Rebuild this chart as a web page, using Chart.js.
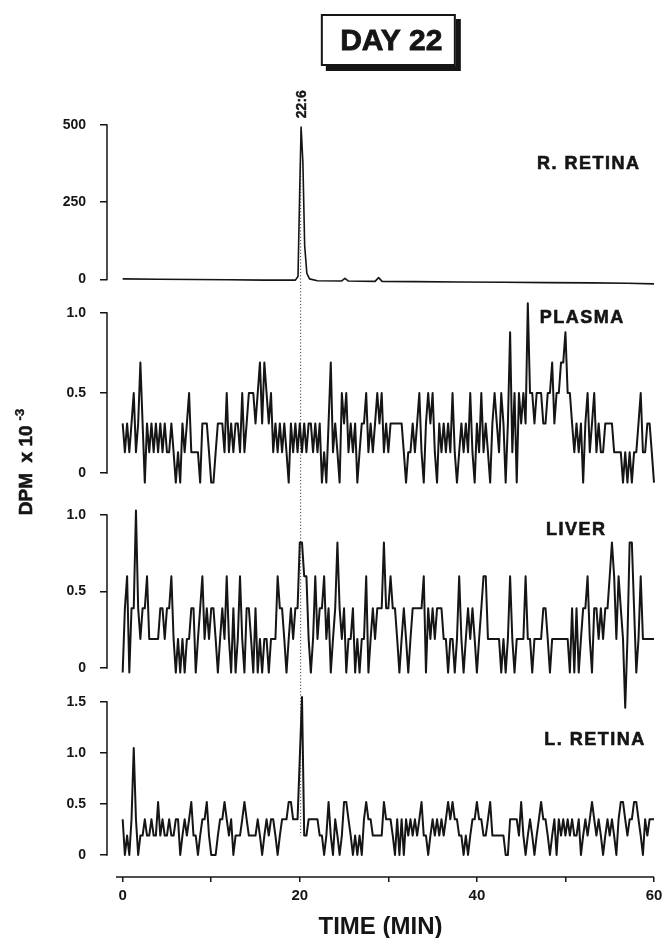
<!DOCTYPE html>
<html>
<head>
<meta charset="utf-8">
<title>Day 22</title>
<script src="https://cdn.jsdelivr.net/npm/chart.js@4.4.1/dist/chart.umd.min.js"></script>
<style>
  html, body { margin: 0; padding: 0; background: #fff; }
  #wrap { position: relative; width: 664px; height: 938px; }
</style>
</head>
<body>
<div id="wrap"><canvas id="dayChart" width="664" height="938"></canvas></div>
<script>
const FONT = "'Liberation Sans', Arial, Helvetica, sans-serif";
const INK = "#151515";

const figureTitle = "DAY 22";
const peakLabel = "22:6";
const peakTime = 20.1;
const xTitle = "TIME (MIN)";
const panelNames = ["R. RETINA", "PLASMA", "LIVER", "L. RETINA"];
const xTicks = [0, 10, 20, 30, 40, 50, 60];
const xTickLabels = [0, 20, 40, 60];
const yTicks = [[0, 250, 500], [0, 0.5, 1.0], [0, 0.5, 1.0], [0, 0.5, 1.0, 1.5]];

const sampleStep = 0.25; // minutes between collected fractions

const rRetinaTimes = [0, 4, 8, 12, 16, 19.5, 19.8, 20.0, 20.15, 20.35, 20.55, 20.8, 21.1, 22, 24.7, 25.1, 25.5, 28.5, 28.9, 29.3, 33, 38, 43, 48, 53, 57, 60];
const rRetinaValues = [2, 1, 0, -1, -2, -2, 10, 300, 493, 380, 110, 20, 2, -4, -5, 4, -5, -6, 6, -6, -7, -8, -9, -10, -11, -12, -14];

const plasmaValues = [
  0.31, 0.13, 0.31, 0.13, 0.31, 0.5, 0.13, 0.31, 0.69, 0.31,
  -0.06, 0.31, 0.13, 0.31, 0.13, 0.31, 0.13, 0.31, 0.13, 0.31,
  0.13, 0.13, 0.31, 0.13, -0.06, 0.13, -0.06, 0.31, 0.13, 0.31,
  0.5, 0.13, 0.13, 0.13, 0.13, -0.06, 0.31, 0.31, 0.31, 0.13,
  -0.06, -0.06, 0.13, 0.31, 0.31, 0.31, 0.13, 0.5, 0.13, 0.31,
  0.13, 0.31, 0.31, 0.13, 0.5, 0.13, 0.31, 0.5, 0.5, 0.5,
  0.31, 0.5, 0.69, 0.31, 0.69, 0.5, 0.31, 0.5, 0.13, 0.31,
  0.13, 0.31, 0.13, 0.31, 0.13, -0.06, 0.31, 0.13, 0.31, 0.13,
  0.31, 0.13, 0.31, 0.13, 0.31, 0.31, 0.13, 0.31, 0.13, 0.31,
  -0.06, 0.13, -0.06, 0.31, 0.69, 0.13, 0.31, 0.13, -0.06, 0.5,
  0.31, 0.5, 0.13, 0.31, 0.13, 0.31, -0.06, 0.13, 0.31, 0.31,
  0.5, 0.13, 0.31, 0.13, 0.31, 0.5, 0.31, 0.5, 0.13, 0.31,
  0.13, 0.31, 0.31, 0.31, 0.31, 0.31, 0.31, 0.13, -0.06, 0.13,
  0.13, 0.31, 0.13, 0.31, 0.5, 0.13, -0.06, 0.31, 0.5, 0.31,
  0.5, 0.13, -0.06, 0.31, 0.13, 0.31, 0.13, 0.31, 0.13, 0.5,
  0.13, -0.06, 0.13, 0.31, 0.13, 0.31, 0.13, 0.5, 0.13, -0.06,
  0.31, 0.13, 0.5, 0.13, 0.31, 0.13, -0.06, 0.31, 0.5, 0.31,
  0.13, 0.5, 0.31, -0.06, 0.31, 0.88, 0.13, 0.5, -0.06, 0.5,
  0.31, 0.5, 0.31, 1.06, 0.5, 0.5, 0.31, 0.5, 0.5, 0.5,
  0.31, 0.31, 0.5, 0.5, 0.69, 0.31, 0.5, 0.5, 0.69, 0.69,
  0.88, 0.5, 0.5, 0.31, 0.13, 0.31, 0.13, 0.31, -0.06, 0.31,
  0.5, 0.13, 0.31, 0.5, 0.13, 0.31, 0.13, 0.13, 0.31, 0.31,
  0.31, 0.31, 0.13, 0.13, 0.13, 0.13, -0.06, 0.13, -0.06, 0.13,
  -0.06, 0.13, 0.13, 0.31, 0.5, 0.13, 0.13, 0.31, 0.31, 0.13,
  -0.06
];

const liverValues = [
  -0.03, 0.39, 0.6, -0.03, 0.39, 0.39, 1.03, 0.39, 0.19, 0.39,
  0.39, 0.6, 0.19, 0.19, 0.19, 0.19, 0.19, 0.39, 0.39, 0.19,
  0.39, 0.39, 0.6, 0.19, -0.03, 0.19, -0.03, 0.19, -0.03, 0.19,
  0.19, 0.39, 0.39, -0.03, 0.19, 0.39, 0.6, 0.19, 0.39, 0.19,
  0.39, 0.39, 0.19, -0.03, 0.19, 0.39, 0.19, 0.6, 0.19, -0.03,
  0.39, -0.03, 0.19, 0.6, 0.19, -0.03, 0.39, 0.39, 0.19, -0.03,
  0.39, -0.03, 0.19, -0.03, 0.19, 0.19, -0.03, 0.19, 0.19, 0.19,
  0.6, 0.39, 0.39, 0.19, -0.03, 0.19, 0.39, 0.19, 0.39, 0.39,
  0.82, 0.82, 0.6, 0.6, 0.19, -0.03, 0.19, 0.6, 0.19, 0.39,
  0.39, 0.6, 0.19, 0.39, -0.03, 0.19, 0.39, 0.82, 0.39, 0.19,
  0.39, -0.03, 0.19, 0.19, 0.39, -0.03, 0.19, -0.03, 0.19, 0.19,
  0.6, -0.03, 0.19, 0.39, 0.19, 0.39, 0.39, 0.39, 0.82, 0.39,
  0.39, 0.6, 0.39, 0.39, 0.19, -0.03, 0.19, 0.39, 0.19, -0.03,
  0.19, 0.39, 0.39, 0.39, 0.39, 0.39, 0.6, -0.03, 0.39, 0.19,
  0.39, 0.19, 0.39, 0.39, 0.39, 0.19, 0.19, -0.03, 0.19, 0.19,
  -0.03, 0.19, 0.6, 0.19, -0.03, 0.19, 0.39, 0.19, 0.39, 0.19,
  -0.03, 0.19, 0.39, 0.6, 0.6, 0.19, 0.19, 0.19, 0.19, 0.19,
  0.19, -0.03, 0.19, -0.03, 0.19, 0.6, 0.19, -0.03, 0.19, 0.19,
  0.19, 0.19, 0.6, 0.19, 0.19, -0.03, 0.19, 0.19, 0.19, 0.19,
  0.39, 0.39, 0.19, -0.03, 0.19, 0.19, 0.19, 0.19, 0.19, 0.19,
  0.19, 0.19, -0.03, 0.39, -0.03, 0.39, -0.03, 0.19, 0.39, 0.39,
  0.6, 0.19, -0.03, 0.39, 0.39, 0.19, 0.39, 0.19, 0.39, 0.39,
  0.6, 0.82, 0.6, 0.19, 0.6, 0.39, 0.19, -0.26, 0.19, 0.82,
  0.82, 0.39, -0.03, 0.19, 0.6, 0.19, 0.19, 0.19, 0.19, 0.19,
  0.19
];

const lRetinaValues = [
  0.35, 0, 0.19, 0, 0.35, 1.05, 0.35, 0, 0.19, 0.19,
  0.35, 0.19, 0.19, 0.35, 0.19, 0.19, 0.52, 0.19, 0.35, 0.19,
  0.19, 0.35, 0.19, 0.19, 0.35, 0.35, 0, 0.19, 0.35, 0.19,
  0.35, 0.52, 0.19, 0.19, 0, 0.19, 0.35, 0.35, 0.52, 0.19,
  0, 0, 0, 0.19, 0.35, 0.35, 0.52, 0.35, 0.19, 0.35,
  0, 0.19, 0.19, 0.19, 0.35, 0.52, 0.35, 0.19, 0.19, 0.19,
  0.19, 0.35, 0.19, 0, 0.19, 0.35, 0.19, 0.35, 0.35, 0.19,
  0, 0.19, 0.35, 0.35, 0.35, 0.52, 0.52, 0.35, 0.35, 0.35,
  0.95, 1.55, 0.19, 0.19, 0.35, 0.35, 0.35, 0.35, 0.35, 0.19,
  0.19, 0, 0.19, 0.52, 0.19, 0, 0.35, 0.19, 0, 0.19,
  0.52, 0.52, 0.35, 0.19, 0, 0.19, 0, 0.19, 0, 0.35,
  0.52, 0.35, 0.35, 0.19, 0.19, 0.19, 0.19, 0.19, 0.52, 0.35,
  0.35, 0.35, 0.19, 0, 0.35, 0, 0.35, 0, 0.35, 0.19,
  0.35, 0.19, 0.35, 0.19, 0.35, 0.52, 0.19, 0.19, 0, 0.19,
  0.35, 0.19, 0.35, 0.19, 0.35, 0.19, 0.35, 0.52, 0.35, 0.52,
  0.35, 0.35, 0.19, 0.19, 0, 0.19, 0, 0.19, 0.35, 0.35,
  0.52, 0.35, 0.35, 0.19, 0.19, 0.35, 0.52, 0.19, 0.19, 0.19,
  0.19, 0.19, 0.19, 0, 0, 0.35, 0.35, 0.35, 0.35, 0.19,
  0.52, 0.19, 0, 0.19, 0.35, 0.19, 0, 0.19, 0.35, 0.52,
  0.35, 0.35, 0.19, 0, 0.19, 0.35, 0, 0.35, 0.19, 0.35,
  0.19, 0.35, 0.19, 0.35, 0.19, 0.19, 0.35, 0, 0.19, 0.35,
  0.19, 0.35, 0.52, 0.35, 0.19, 0.35, 0.19, 0, 0.19, 0.35,
  0.19, 0.35, 0.19, 0, 0.35, 0.52, 0.52, 0.35, 0.19, 0.35,
  0.35, 0.52, 0.52, 0.35, 0.19, 0, 0.35, 0.19, 0.35, 0.35,
  0.35
];

const sampleTimes = plasmaValues.map((_, i) => i * sampleStep);
const toPoints = (times, values) => values.map((v, i) => ({ x: times[i], y: v }));

// one y scale per panel, stacked top to bottom
const panelScaleIds = ["yR", "yP", "yV", "yL"];
const panelLabelSpots = [
  { t: 46.8, at: 374 },
  { t: 47.1, at: 0.97 },
  { t: 47.8, at: 0.9 },
  { t: 47.6, at: 1.13 },
];

const tickText = (value) => {
  if (value === 0) return "0";
  return value >= 100 ? String(value) : value.toFixed(1);
};

const panelScale = (k, min, max, stackWeight) => ({
  type: "linear",
  position: "left",
  stack: "panels",
  stackWeight: stackWeight,
  weight: 4 - k,
  min: min,
  max: max,
  offset: false,
  border: { display: false },
  grid: { drawOnChartArea: false, drawTicks: true, tickLength: 7, color: INK, lineWidth: 1.5 },
  ticks: {
    color: INK,
    padding: 14,
    font: { family: FONT, size: 14, weight: "bold" },
    callback: tickText,
  },
  afterBuildTicks: (scale) => {
    scale.ticks = yTicks[k].map((v) => ({ value: v }));
  },
  afterFit: (scale) => {
    scale.width = 107;
    scale.paddingTop = 0;
    scale.paddingBottom = 0;
  },
});

const traceStyle = {
  borderColor: INK,
  borderWidth: 2,
  borderJoinStyle: "round",
  pointRadius: 0,
  tension: 0,
  fill: false,
  clip: false,
};

// heavier lettering, closer to the printed type
const boldText = (ctx, text, x, y, weight) => {
  ctx.fillText(text, x, y);
  ctx.lineWidth = weight;
  ctx.strokeText(text, x, y);
};

const figureDecor = {
  id: "figureDecor",
  beforeDatasetsDraw(chart) {
    const { ctx } = chart;
    const x = chart.scales.x;
    const px = x.getPixelForValue(peakTime);
    ctx.save();
    ctx.strokeStyle = "#444";
    ctx.lineWidth = 1;
    ctx.setLineDash([1.2, 2]);
    ctx.beginPath();
    ctx.moveTo(px, chart.scales.yR.getPixelForValue(480));
    ctx.lineTo(px, chart.scales.yL.getPixelForValue(0.19));
    ctx.stroke();
    ctx.restore();
  },
  afterDraw(chart) {
    const { ctx } = chart;
    const x = chart.scales.x;
    ctx.save();
    ctx.strokeStyle = INK;
    ctx.fillStyle = INK;
    ctx.lineWidth = 1.5;

    // bracket axes: only from zero up to the top tick
    panelScaleIds.forEach((id, k) => {
      const s = chart.scales[id];
      const top = s.getPixelForValue(yTicks[k][yTicks[k].length - 1]);
      const bottom = s.getPixelForValue(0);
      ctx.beginPath();
      ctx.moveTo(s.right, top - 0.75);
      ctx.lineTo(s.right, bottom + 0.75);
      ctx.stroke();
    });

    // time axis line
    ctx.beginPath();
    ctx.moveTo(x.getPixelForValue(-0.75), x.top);
    ctx.lineTo(x.right, x.top);
    ctx.stroke();

    // panel names
    ctx.font = "bold 18px " + FONT;
    ctx.letterSpacing = "1.5px";
    ctx.textAlign = "left";
    ctx.textBaseline = "middle";
    panelNames.forEach((name, k) => {
      const spot = panelLabelSpots[k];
      boldText(ctx, name, x.getPixelForValue(spot.t), chart.scales[panelScaleIds[k]].getPixelForValue(spot.at), 0.6);
    });
    ctx.letterSpacing = "0px";

    // peak time label, rotated
    const px = x.getPixelForValue(peakTime);
    const peakY = chart.scales.yR.getPixelForValue(493);
    ctx.save();
    ctx.translate(px + 1, peakY - 9);
    ctx.rotate(-Math.PI / 2);
    ctx.font = "bold 14px " + FONT;
    ctx.textAlign = "left";
    ctx.textBaseline = "middle";
    boldText(ctx, peakLabel, 0, 0, 0.4);
    ctx.restore();

    // boxed title with drop shadow
    const cx = x.getPixelForValue(30);
    const bw = 135, bh = 52, by = 14;
    ctx.fillRect(cx - bw / 2 + 5, by + 5, bw, bh);
    ctx.fillStyle = "#fff";
    ctx.fillRect(cx - bw / 2, by, bw, bh);
    ctx.lineWidth = 2;
    ctx.strokeRect(cx - bw / 2 + 1, by + 1, bw - 2, bh - 2);
    ctx.fillStyle = INK;
    ctx.font = "bold 30px " + FONT;
    ctx.textAlign = "center";
    ctx.textBaseline = "middle";
    boldText(ctx, figureTitle, cx + 3, by + bh / 2 + 2, 0.8);

    // y axis title with superscript
    ctx.save();
    ctx.translate(32, 462);
    ctx.rotate(-Math.PI / 2);
    ctx.textBaseline = "alphabetic";
    ctx.textAlign = "left";
    const mainText = "DPM  x 10";
    const supText = "-3";
    ctx.font = "bold 19px " + FONT;
    const mw = ctx.measureText(mainText).width;
    ctx.font = "bold 13px " + FONT;
    const sw = ctx.measureText(supText).width;
    const start = -(mw + 5 + sw) / 2;
    ctx.font = "bold 19px " + FONT;
    boldText(ctx, mainText, start, 0, 0.6);
    ctx.font = "bold 13px " + FONT;
    boldText(ctx, supText, start + mw + 5, -8, 0.4);
    ctx.restore();

    ctx.restore();
  },
};

new Chart(document.getElementById("dayChart"), {
  type: "line",
  data: {
    datasets: [
      { label: panelNames[0], data: toPoints(rRetinaTimes, rRetinaValues), yAxisID: "yR", ...traceStyle, borderWidth: 1.6 },
      { label: panelNames[1], data: toPoints(sampleTimes, plasmaValues), yAxisID: "yP", ...traceStyle },
      { label: panelNames[2], data: toPoints(sampleTimes, liverValues), yAxisID: "yV", ...traceStyle },
      { label: panelNames[3], data: toPoints(sampleTimes, lRetinaValues), yAxisID: "yL", ...traceStyle },
    ],
  },
  options: {
    responsive: false,
    animation: false,
    devicePixelRatio: 1,
    events: [],
    layout: { padding: { top: 100, left: 0, right: 10, bottom: 0 } },
    plugins: {
      legend: { display: false },
      tooltip: { enabled: false },
    },
    scales: {
      x: {
        type: "linear",
        position: "bottom",
        min: -1.77,
        max: 60,
        border: { display: false },
        grid: { drawOnChartArea: false, drawTicks: true, tickLength: 5, color: INK, lineWidth: 1.5 },
        ticks: {
          color: INK,
          padding: 5,
          autoSkip: false,
          maxRotation: 0,
          font: { family: FONT, size: 15, weight: "bold" },
          callback: (value) => (xTickLabels.includes(value) ? String(value) : ""),
        },
        afterBuildTicks: (scale) => {
          scale.ticks = xTicks.map((v) => ({ value: v }));
        },
        afterFit: (scale) => {
          scale.height = 61;
          scale.paddingLeft = 0;
          scale.paddingRight = 0;
        },
        title: {
          display: true,
          text: xTitle,
          color: INK,
          font: { family: FONT, size: 24, weight: "bold", lineHeight: 0.85 },
          padding: { top: 0, bottom: 0 },
        },
      },
      yR: panelScale(0, -53.4, 580.9, 196),
      yP: panelScale(1, -0.125, 1.106, 197),
      yV: panelScale(2, -0.144, 1.144, 197),
      yL: panelScale(3, -0.216, 1.618, 187),
    },
  },
  plugins: [figureDecor],
});
</script>
</body>
</html>
